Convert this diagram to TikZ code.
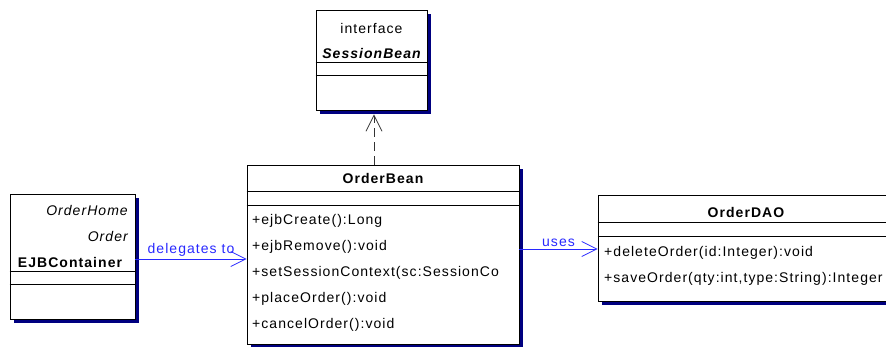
\documentclass[tikz,border=0pt]{standalone}
\usepackage{fontspec}
\setmainfont{Liberation Sans}[LetterSpace=7.5]
\usetikzlibrary{arrows.meta, shadows}
\definecolor{navyshade}{RGB}{0,0,128}
\definecolor{linkblue}{RGB}{40,40,255}
\newcommand{\umlfont}{\fontsize{14}{17}\selectfont}

\begin{document}
\begin{tikzpicture}[%
        x=1pt, y=-1pt,              % pixel-like coordinates, y grows downwards
        font=\umlfont,              % Dialog-like sans text
    ]
    \tikzset{
        umlclass/.style={draw, fill=white, line width=0.8pt, inner sep=0pt,
            general shadow={fill=navyshade, shadow xshift=4pt, shadow yshift=-4pt}},
        cname/.style={inner sep=0pt, font={\umlfont\bfseries}},
        stereo/.style={inner sep=0pt},
        member/.style={anchor=west, inner sep=0pt},
        % -------------------------------------------------
        % Connector line styles
        assoc/.style={draw, linkblue, line width=0.8pt,
            -{Straight Barb[length=15pt, width=15pt]}},
        realize/.style={draw, black!80, line width=0.8pt, dash pattern=on 9pt off 5pt,
            -{Straight Barb[length=16pt, width=16pt]}},
        lbl/.style={text=linkblue, inner sep=2pt}
    }
    \useasboundingbox (0,0) rectangle (886,347);
    %%% Classes
    \node [umlclass, minimum width=111pt, minimum height=100pt] (sess) at (371.5,60) {};
    \node [umlclass, minimum width=272pt, minimum height=179pt] (bean) at (383,254.5) {};
    \node [umlclass, minimum width=125pt, minimum height=125pt] (ejb) at (72.5,256.5) {};
    \node [umlclass, minimum width=296pt, minimum height=106pt] (dao) at (746,248) {};
    %%% Compartments
    \draw [line width=0.8pt] (sess.west |- 0,62) -- (sess.east |- 0,62)
                             (sess.west |- 0,75) -- (sess.east |- 0,75);
    \draw [line width=0.8pt] (bean.west |- 0,191) -- (bean.east |- 0,191)
                             (bean.west |- 0,205) -- (bean.east |- 0,205);
    \draw [line width=0.8pt] (ejb.west |- 0,271) -- (ejb.east |- 0,271)
                             (ejb.west |- 0,284) -- (ejb.east |- 0,284);
    \draw [line width=0.8pt] (dao.west |- 0,222) -- (dao.east |- 0,222)
                             (dao.west |- 0,236) -- (dao.east |- 0,236);
    %%% Texts
    \node [stereo] (sess_st) at (371.5,28) {interface};
    \node [cname, font={\umlfont\bfseries\itshape}] (sess_nm) at (371.5,53) {SessionBean};
    \node [cname] (bean_nm) at (383,178) {OrderBean};
    \begin{scope}
        \clip (bean.south west) rectangle (bean.north east);
        \node [member] (m1) at (252,221) {+ejbCreate():Long};
        \node [member] (m2) at (252,247) {+ejbRemove():void};
        \node [member] (m3) at (252,273) {+setSessionContext(sc:SessionCo};
        \node [member] (m4) at (252,299) {+placeOrder():void};
        \node [member] (m5) at (252,325) {+cancelOrder():void};
    \end{scope}
    \node [stereo, anchor=east, font={\umlfont\itshape}] (ejb_i1) at (128,211) {OrderHome};
    \node [stereo, anchor=east, font={\umlfont\itshape}] (ejb_i2) at (128,237) {Order};
    \node [cname] (ejb_nm) at (70,262) {EJBContainer};
    \node [cname] (dao_nm) at (746,212) {OrderDAO};
    \node [member] (d1) at (604,253) {+deleteOrder(id:Integer):void};
    \node [member] (d2) at (604,279) {+saveOrder(qty:int,type:String):Integer};
    %%% Connectors
    \coordinate (sess_tip) at ([yshift=-4pt]sess.south -| 374,0);
    \draw [realize] (bean.north -| 374,0) -- (sess_tip);
    \draw [assoc] (ejb.east |- 0,259) -- node [lbl, above] {delegates to} (bean.west |- 0,259);
    \draw [assoc] (bean.east |- 0,249) -- node [lbl, above] {uses} (dao.west |- 0,249);
\end{tikzpicture}
\end{document}
